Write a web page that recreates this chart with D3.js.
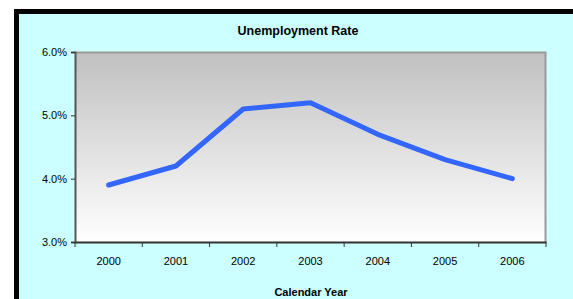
<!DOCTYPE html>
<html>
<head>
<meta charset="utf-8">
<script src="https://cdn.jsdelivr.net/npm/d3@7"></script>
<style>
  body { margin: 0; background: #fff; }
  text { font-family: "Liberation Sans", Arial, sans-serif; fill: #000; }
</style>
</head>
<body>
<div class="container"></div>
<script>
const years = ['2000', '2001', '2002', '2003', '2004', '2005', '2006']
const rates = [3.9, 4.2, 5.1, 5.2, 4.7, 4.3, 4.0]
const yTicks = [3, 4, 5, 6]
const chartTitle = 'Unemployment Rate'
const xTitle = 'Calendar Year'

const width = 573
const height = 299
const plot = { left: 75, top: 52, right: 546, bottom: 242 }

const svg = d3.select('.container').append('svg')
  .attr('width', width).attr('height', height)

// outer frame
svg.append('rect')
  .attr('x', 16.5).attr('y', 11.5)
  .attr('width', 600).attr('height', 400)
  .attr('fill', '#ccffff')
  .attr('stroke', '#000').attr('stroke-width', 5)

const defs = svg.append('defs')
const grad = defs.append('linearGradient')
  .attr('id', 'bg').attr('x1', 0).attr('y1', 0).attr('x2', 0).attr('y2', 1)
grad.append('stop').attr('offset', '0%').attr('stop-color', '#c0c0c0')
grad.append('stop').attr('offset', '100%').attr('stop-color', '#ffffff')

const xScale = d3.scaleBand().domain(years).range([plot.left, plot.right])
const yScale = d3.scaleLinear().domain([3, 6]).range([plot.bottom, plot.top])

svg.append('rect')
  .attr('x', plot.left).attr('y', plot.top)
  .attr('width', plot.right - plot.left).attr('height', plot.bottom - plot.top)
  .attr('fill', 'url(#bg)')

// gray border top & right
svg.append('path')
  .attr('d', `M${plot.left},${plot.top + 0.5}H${plot.right - 0.5}V${plot.bottom}`)
  .attr('fill', 'none').attr('stroke', '#999').attr('stroke-width', 2)

// y axis
const yAxis = d3.axisLeft(yScale)
  .tickValues(yTicks)
  .tickFormat(d => d.toFixed(1) + '%')
  .tickSize(4)
  .tickPadding(4)
svg.append('g')
  .attr('transform', `translate(${plot.left},0)`)
  .call(yAxis)
  .call(g => g.select('.domain').attr('stroke', '#555').attr('stroke-width', 2))
  .call(g => g.selectAll('.tick line').attr('stroke', '#333'))
  .call(g => g.selectAll('.tick text').attr('font-size', 11).attr('font-family', '"Liberation Sans", Arial, sans-serif'))

// x axis: ticks at category boundaries
const xAxis = d3.axisBottom(xScale).tickSize(0).tickPadding(15)
svg.append('g')
  .attr('transform', `translate(0,${plot.bottom})`)
  .call(xAxis)
  .call(g => g.select('.domain').attr('stroke', '#333').attr('stroke-width', 2))
  .call(g => g.selectAll('.tick text').attr('font-size', 11).attr('font-family', '"Liberation Sans", Arial, sans-serif'))

const bounds = years.map(y => xScale(y)).concat([plot.right])
svg.append('g').selectAll('line').data(bounds).join('line')
  .attr('x1', d => d).attr('x2', d => d)
  .attr('y1', plot.bottom).attr('y2', plot.bottom + 5)
  .attr('stroke', '#333')

// line
const line = d3.line()
  .x((d, i) => xScale(years[i]) + xScale.bandwidth() / 2)
  .y(d => yScale(d))
svg.append('path')
  .datum(rates)
  .attr('d', line)
  .attr('fill', 'none')
  .attr('stroke', '#3366ff')
  .attr('stroke-width', 5)
  .attr('stroke-linecap', 'round')
  .attr('stroke-linejoin', 'round')

svg.append('text')
  .attr('x', 298).attr('y', 35)
  .attr('text-anchor', 'middle')
  .attr('font-size', 12.5).attr('font-weight', 'bold')
  .text(chartTitle)

svg.append('text')
  .attr('x', 311).attr('y', 296)
  .attr('text-anchor', 'middle')
  .attr('font-size', 11).attr('font-weight', 'bold')
  .text(xTitle)
</script>
</body>
</html>
